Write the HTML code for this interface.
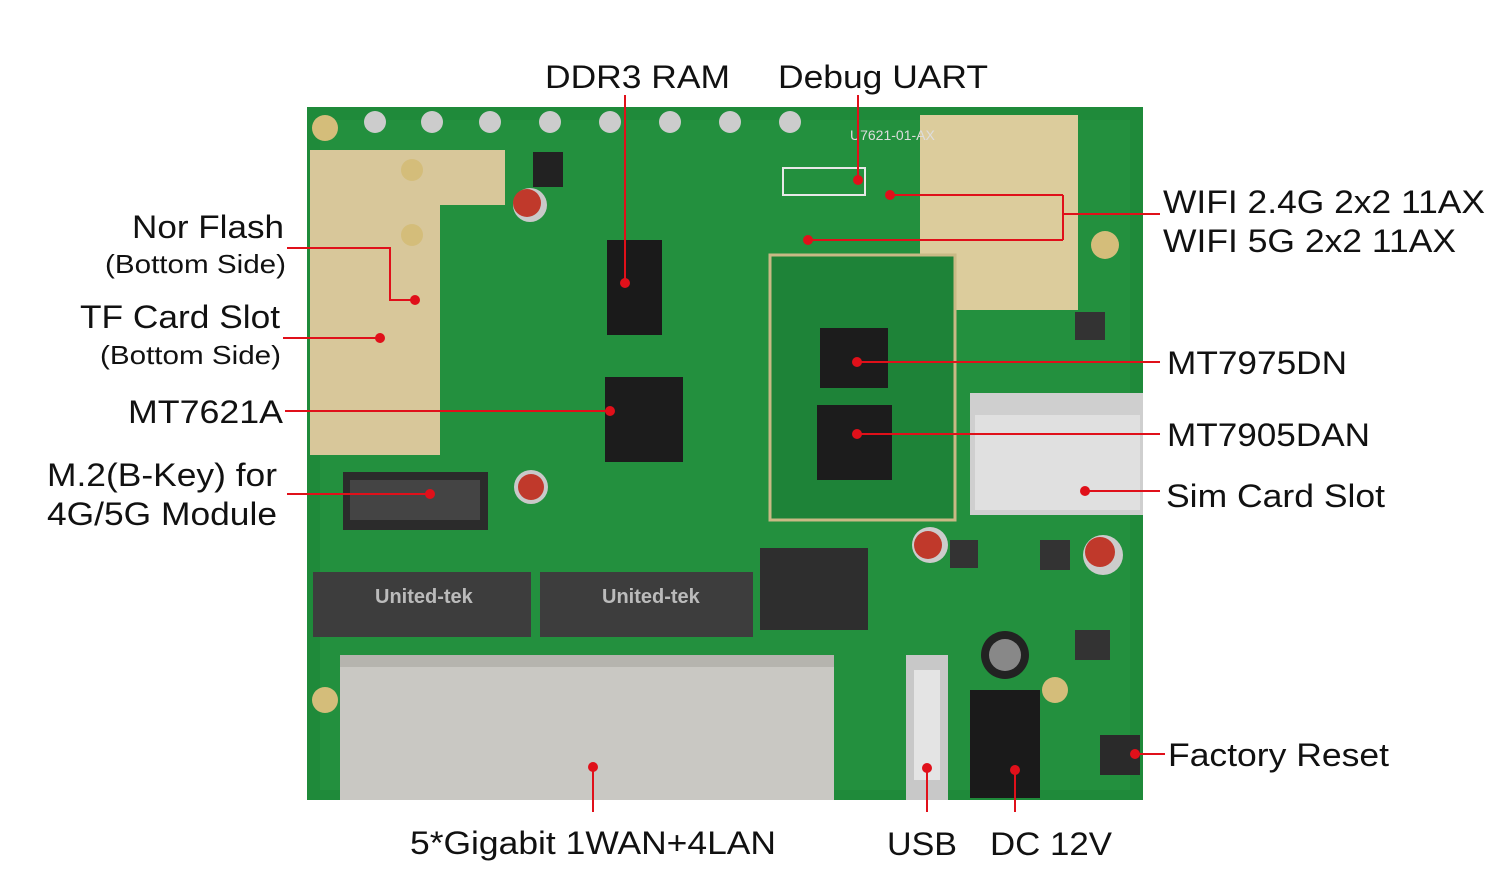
<!DOCTYPE html>
<html><head><meta charset="utf-8"><style>
html,body{margin:0;padding:0;background:#fff;}
svg{display:block}
text{font-family:"Liberation Sans",Arial,sans-serif;fill:#111}
</style></head><body>
<svg width="1493" height="878" viewBox="0 0 1493 878" xmlns="http://www.w3.org/2000/svg">
<rect width="1493" height="878" fill="#fff"/>
<rect x="307" y="107" width="836" height="693" fill="#1f8a3a"/>
<rect x="320" y="120" width="810" height="670" fill="#23903e"/>
<path d="M310 150 H505 V205 H440 V455 H310 Z" fill="#d8c79a"/>
<path d="M920 115 H1078 V310 H955 V270 H920 Z" fill="#dccc9c"/>
<rect x="770" y="255" width="185" height="265" fill="#1e8338" stroke="#c9b985" stroke-width="3"/>
<rect x="607" y="240" width="55" height="95" fill="#1a1a1a"/>
<rect x="605" y="377" width="78" height="85" fill="#1c1c1c"/>
<rect x="820" y="328" width="68" height="60" fill="#1c1c1c"/>
<rect x="817" y="405" width="75" height="75" fill="#1c1c1c"/>
<rect x="533" y="152" width="30" height="35" fill="#222"/>
<rect x="343" y="472" width="145" height="58" fill="#2b2b2b"/>
<rect x="350" y="480" width="130" height="40" fill="#444"/>
<circle cx="530" cy="205" r="17" fill="#c9c9c9"/><circle cx="527" cy="203" r="14" fill="#c0392b"/>
<circle cx="531" cy="487" r="17" fill="#c9c9c9"/><circle cx="531" cy="487" r="13" fill="#c0392b"/>
<circle cx="930" cy="545" r="18" fill="#ccc"/><circle cx="928" cy="545" r="14" fill="#c0392b"/>
<circle cx="1103" cy="555" r="20" fill="#ccc"/><circle cx="1100" cy="552" r="15" fill="#c0392b"/>
<circle cx="1005" cy="655" r="24" fill="#222"/><circle cx="1005" cy="655" r="16" fill="#888"/>
<rect x="1040" y="540" width="30" height="30" fill="#333"/>
<rect x="1075" y="630" width="35" height="30" fill="#333"/>
<rect x="1075" y="312" width="30" height="28" fill="#333"/>
<rect x="950" y="540" width="28" height="28" fill="#333"/>
<rect x="970" y="393" width="173" height="122" fill="#cfcfcf"/>
<rect x="975" y="415" width="165" height="95" fill="#e0e0e0"/>
<rect x="313" y="572" width="218" height="65" fill="#3d3d3d"/>
<rect x="540" y="572" width="213" height="65" fill="#3d3d3d"/>
<rect x="760" y="548" width="108" height="82" fill="#2e2e2e"/>
<text x="375" y="603" font-size="20" font-weight="bold" style="fill:#bbb">United-tek</text>
<text x="602" y="603" font-size="20" font-weight="bold" style="fill:#bbb">United-tek</text>
<rect x="340" y="655" width="494" height="145" fill="#c9c8c3"/>
<rect x="340" y="655" width="494" height="12" fill="#b5b4ae"/>
<rect x="906" y="655" width="42" height="145" fill="#c8c8c8"/>
<rect x="914" y="670" width="26" height="110" fill="#e4e4e4"/>
<rect x="970" y="690" width="70" height="108" fill="#1a1a1a"/>
<rect x="1100" y="735" width="40" height="40" fill="#2a2a2a"/>
<g fill="#d4bd7a"><circle cx="325" cy="128" r="13"/><circle cx="325" cy="700" r="13"/><circle cx="1105" cy="245" r="14"/><circle cx="1055" cy="690" r="13"/><circle cx="412" cy="170" r="11"/><circle cx="412" cy="235" r="11"/></g>
<g fill="#ccc"><circle cx="375" cy="122" r="11"/><circle cx="432" cy="122" r="11"/><circle cx="490" cy="122" r="11"/><circle cx="550" cy="122" r="11"/><circle cx="610" cy="122" r="11"/><circle cx="670" cy="122" r="11"/><circle cx="730" cy="122" r="11"/><circle cx="790" cy="122" r="11"/></g>
<rect x="783" y="168" width="82" height="27" fill="none" stroke="#e8e8e8" stroke-width="2"/>
<text x="850" y="140" font-size="14" style="fill:#ddd">U7621-01-AX</text>

<g stroke="#e0101a" stroke-width="2" fill="none">
<path d="M287 248 H390 V300 H415"/>
<path d="M283 338 H380"/>
<path d="M285 411 H610"/>
<path d="M287 494 H430"/>
<path d="M625 95 V283"/>
<path d="M858 95 V180"/>
<path d="M1160 214 H1063 M1063 195 V240 M1063 195 H890 M1063 240 H808"/>
<path d="M1160 362 H857"/>
<path d="M1160 434 H857"/>
<path d="M1160 491 H1085"/>
<path d="M1165 754 H1135"/>
<path d="M593 767 V812"/>
<path d="M927 768 V812"/>
<path d="M1015 770 V812"/>
</g>
<g fill="#e0101a">
<circle cx="415" cy="300" r="5"/><circle cx="380" cy="338" r="5"/><circle cx="610" cy="411" r="5"/><circle cx="430" cy="494" r="5"/>
<circle cx="625" cy="283" r="5"/><circle cx="858" cy="180" r="5"/><circle cx="890" cy="195" r="5"/><circle cx="808" cy="240" r="5"/>
<circle cx="857" cy="362" r="5"/><circle cx="857" cy="434" r="5"/><circle cx="1085" cy="491" r="5"/><circle cx="1135" cy="754" r="5"/>
<circle cx="593" cy="767" r="5"/><circle cx="927" cy="768" r="5"/><circle cx="1015" cy="770" r="5"/>
</g>

<g font-size="32">
<text x="545" y="88" textLength="185" lengthAdjust="spacingAndGlyphs">DDR3 RAM</text>
<text x="778" y="88" textLength="210" lengthAdjust="spacingAndGlyphs">Debug UART</text>
<text x="132" y="238" textLength="152" lengthAdjust="spacingAndGlyphs">Nor Flash</text>
<text x="80" y="328" textLength="200" lengthAdjust="spacingAndGlyphs">TF Card Slot</text>
<text x="128" y="423" textLength="155" lengthAdjust="spacingAndGlyphs">MT7621A</text>
<text x="47" y="486" textLength="230" lengthAdjust="spacingAndGlyphs">M.2(B-Key) for</text>
<text x="47" y="525" textLength="230" lengthAdjust="spacingAndGlyphs">4G/5G Module</text>
<text x="1163" y="213" textLength="322" lengthAdjust="spacingAndGlyphs">WIFI 2.4G 2x2 11AX</text>
<text x="1163" y="252" textLength="293" lengthAdjust="spacingAndGlyphs">WIFI 5G 2x2 11AX</text>
<text x="1167" y="374" textLength="180" lengthAdjust="spacingAndGlyphs">MT7975DN</text>
<text x="1167" y="446" textLength="203" lengthAdjust="spacingAndGlyphs">MT7905DAN</text>
<text x="1166" y="507" textLength="219" lengthAdjust="spacingAndGlyphs">Sim Card Slot</text>
<text x="1168" y="766" textLength="221" lengthAdjust="spacingAndGlyphs">Factory Reset</text>
<text x="410" y="854" textLength="366" lengthAdjust="spacingAndGlyphs">5*Gigabit 1WAN+4LAN</text>
<text x="887" y="855" textLength="70" lengthAdjust="spacingAndGlyphs">USB</text>
<text x="990" y="855" textLength="122" lengthAdjust="spacingAndGlyphs">DC 12V</text>
</g>
<g font-size="26">
<text x="105" y="273" textLength="181" lengthAdjust="spacingAndGlyphs">(Bottom Side)</text>
<text x="100" y="364" textLength="181" lengthAdjust="spacingAndGlyphs">(Bottom Side)</text>
</g>
</svg>
</body></html>
